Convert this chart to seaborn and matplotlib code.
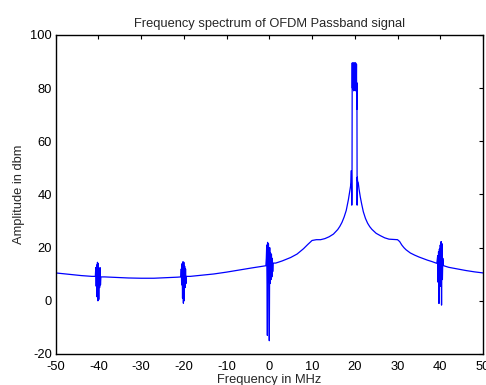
import matplotlib
matplotlib.use("Agg")
import matplotlib.pyplot as plt
import pandas as pd
import seaborn as sns

# ---- data ----
base_freq = [-50, -47, -44, -41.5, -38.5, -36, -33, -30, -27, -24, -21.5, -18.5,
             -16, -13, -10, -7, -4, -1.5, 1.5, 3, 5, 6.5, 8, 9, 10, 11, 12, 13,
             14, 15, 16, 16.5, 17, 17.5, 18, 18.5, 18.8, 19.0,
             20.8, 21.0, 21.3, 21.6, 22, 22.5, 23, 23.5, 24, 25, 26, 27, 28, 29,
             30, 30.5, 31, 31.5, 32, 33, 34, 35, 36, 37, 38, 39.0,
             41, 42, 44, 46, 48, 50]
base_amp = [10.5, 10.0, 9.5, 9.2, 9.0, 8.8, 8.6, 8.5, 8.5, 8.7, 8.9, 9.2,
            9.6, 10.1, 10.8, 11.6, 12.4, 13.0, 14.2, 15.0, 16.3, 17.6, 19.6, 21.2, 22.7, 23.0, 23.0, 23.4,
            24.1, 25.1, 26.8, 28.0, 29.5, 31.5, 34.0, 38.0, 41.0, 43.0,
            44.5, 42.0, 39.0, 36.5, 33.5, 31.0, 29.2, 27.9, 26.9, 25.4, 24.5, 23.7, 23.2, 23.1,
            23.0, 22.3, 21.0, 20.0, 19.2, 18.0, 17.2, 16.5, 15.9, 15.3, 14.8, 14.2,
            13.1, 12.6, 12.0, 11.4, 10.9, 10.5]

burst_m40_freq = [-40.7, -40.6, -40.5, -40.4, -40.3, -40.2, -40.1, -40.0, -39.9, -39.8, -39.7, -39.6, -39.5, -39.4]
burst_m40_amp = [9.2, 12.5, 5.5, 13.5, 1.5, 14.5, 0.0, 14.0, 0.5, 12.0, 5.0, 12.5, 6.0, 9.0]

burst_m20_freq = [-20.7, -20.6, -20.5, -20.4, -20.3, -20.2, -20.1, -20.0, -19.9, -19.8, -19.7, -19.6, -19.5, -19.4]
burst_m20_amp = [9.0, 12.0, 6.0, 14.0, 1.0, 14.7, -0.9, 14.5, 0.0, 13.0, 5.0, 12.0, 6.5, 9.2]

burst_0_freq = [-0.8, -0.7, -0.6, -0.5, -0.45, -0.4, -0.3, -0.2, -0.1, 0.0, 0.1, 0.2, 0.3, 0.4, 0.5, 0.6, 0.7, 0.8, 0.9]
burst_0_amp = [13.2, 16.0, 21.0, 6.0, -13.0, 22.0, 7.0, 21.5, 5.5, -15.0, 20.0, 6.5, 18.0, 8.0, 17.5, 9.0, 16.0, 11.0, 14.2]

peak_20_freq = [19.1, 19.2, 19.25, 19.3, 19.35, 19.4, 19.45, 19.5, 19.55, 19.6, 19.65, 19.7, 19.75, 19.8,
                19.85, 19.9, 19.95, 20.0, 20.05, 20.1, 20.15, 20.2, 20.25, 20.3, 20.35, 20.4, 20.45,
                20.5, 20.55, 20.6, 20.65]
peak_20_amp = [44.5, 49.0, 41.0, 36.0, 40.0, 89.5, 80.0, 89.0, 79.5, 89.5, 80.5, 88.5, 79.0, 89.5,
               80.0, 89.0, 79.5, 89.5, 80.5, 89.0, 79.0, 89.5, 80.0, 88.5, 81.0, 89.0, 72.0,
               82.0, 36.0, 46.5, 45.0]

burst_40_freq = [39.2, 39.4, 39.5, 39.6, 39.7, 39.8, 39.9, 40.0, 40.1, 40.2, 40.3, 40.4, 40.5, 40.6, 40.7]
burst_40_amp = [14.1, 17.0, 7.0, 18.5, -1.0, 19.5, 6.0, 21.0, 5.5, 22.3, -1.6, 21.5, 8.0, 16.0, 13.3]

x_ticks = [-50, -40, -30, -20, -10, 0, 10, 20, 30, 40, 50]
y_ticks = [-20, 0, 20, 40, 60, 80, 100]

title = "Frequency spectrum of OFDM Passband signal"
x_label = "Frequency in MHz"
y_label = "Amplitude in dbm"

# ---- build table ----
freq = (base_freq + burst_m40_freq + burst_m20_freq + burst_0_freq
        + peak_20_freq + burst_40_freq)
amp = (base_amp + burst_m40_amp + burst_m20_amp + burst_0_amp
       + peak_20_amp + burst_40_amp)
df = pd.DataFrame({"freq": freq, "amp": amp}).sort_values("freq", kind="mergesort")

sns.set_style("white")
plt.rcParams['font.family'] = ['Liberation Sans', 'DejaVu Sans']

W, H = 486, 385
FS = 9.25
fig = plt.figure(figsize=(W / 100, H / 100), dpi=100)
left, right, top, bottom = 55.6, 483.0, 35.0, 354.0
ax = fig.add_axes([left / W, 1 - bottom / H, (right - left) / W, (bottom - top) / H])

sns.lineplot(data=df, x="freq", y="amp", ax=ax, color=(0, 0, 1), linewidth=0.9,
             estimator=None, sort=False)

ax.set_xlim(-50, 50)
ax.set_ylim(-20, 100)
ax.set_xticks(x_ticks)
ax.set_yticks(y_ticks)
ax.set_xticklabels([str(t) for t in x_ticks])
ax.set_yticklabels([str(t) for t in y_ticks])
ax.tick_params(direction='in', length=3.2, width=0.8, top=True, right=True,
               labelsize=FS, colors='black')
ax.tick_params(axis='y', pad=2.5)
ax.tick_params(axis='x', pad=5.0)
for s in ax.spines.values():
    s.set_visible(True)
    s.set_color('black')
    s.set_linewidth(1.0)

ax.set_title(title, fontsize=FS, pad=6)
ax.set_xlabel(x_label, fontsize=FS, labelpad=1.0)
ax.set_ylabel(y_label, fontsize=FS, labelpad=4)

fig.savefig("out.png", dpi=100)
